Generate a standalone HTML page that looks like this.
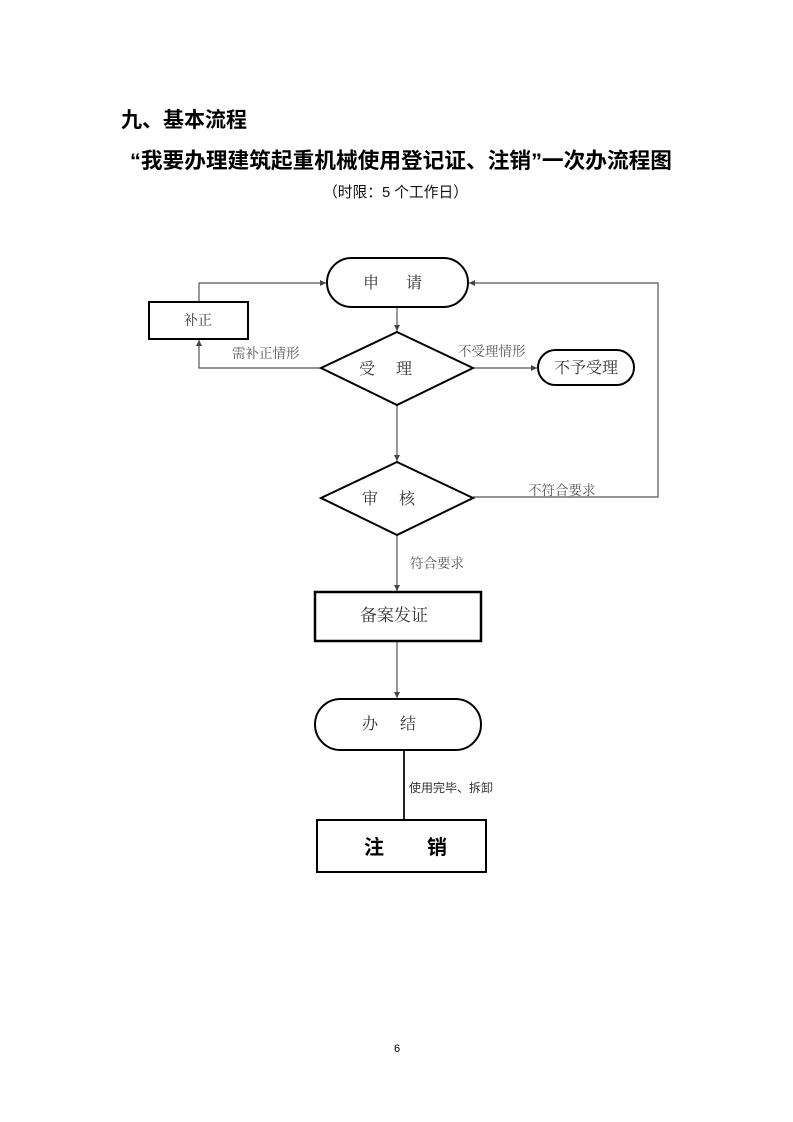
<!DOCTYPE html>
<html>
<head>
<meta charset="utf-8">
<style>
  html,body{margin:0;padding:0;background:#fff;}
  svg{display:block;}
  .h{font-family:"Liberation Sans","Noto Sans CJK SC",sans-serif;font-weight:bold;fill:#000;}
  .s{font-family:"Liberation Serif","Noto Serif CJK SC",serif;fill:#333;}
  .l{font-family:"Liberation Serif","Noto Serif CJK SC",serif;fill:#555;}
</style>
</head>
<body>
<svg width="793" height="1122" viewBox="0 0 793 1122" xmlns="http://www.w3.org/2000/svg">
  <defs>
    <marker id="a" viewBox="0 0 10 10" refX="10" refY="5" markerWidth="6" markerHeight="6" orient="auto" markerUnits="userSpaceOnUse">
      <path d="M0,0 L10,5 L0,10 z" fill="#444"/>
    </marker>
  </defs>

  <!-- Titles -->
  <text class="h" x="121" y="127" font-size="21" textLength="126" lengthAdjust="spacingAndGlyphs">九、基本流程</text>
  <text class="h" x="130" y="168" font-size="21.5" textLength="542" lengthAdjust="spacingAndGlyphs">“我要办理建筑起重机械使用登记证、注销”一次办流程图</text>
  <text class="s" x="323" y="197" font-size="15" fill="#111" textLength="145" lengthAdjust="spacingAndGlyphs" style="fill:#111;font-family:'Liberation Sans','Noto Sans CJK SC',sans-serif">（时限：5 个工作日）</text>

  <!-- Connectors -->
  <g stroke="#555" stroke-width="1.2" fill="none">
    <!-- 补正 -> 申请 -->
    <polyline points="199,302 199,283 326,283" marker-end="url(#a)"/>
    <!-- 审核 不符合 -> 申请 -->
    <polyline points="473,497 658,497 658,283 469,283" marker-end="url(#a)"/>
    <!-- 申请 -> 受理 -->
    <line x1="397" y1="307" x2="397" y2="331" marker-end="url(#a)"/>
    <!-- 受理 -> 补正 -->
    <polyline points="321,368 199,368 199,340" marker-end="url(#a)"/>
    <!-- 受理 -> 不予受理 -->
    <line x1="473" y1="368" x2="537" y2="368" marker-end="url(#a)"/>
    <!-- 受理 -> 审核 -->
    <line x1="397" y1="405" x2="397" y2="461" marker-end="url(#a)"/>
    <!-- 审核 -> 备案 -->
    <line x1="397" y1="535" x2="397" y2="591" marker-end="url(#a)"/>
    <!-- 备案 -> 办结 -->
    <line x1="397" y1="641" x2="397" y2="698" marker-end="url(#a)"/>
  </g>
  <!-- 办结 -> 注销 -->
  <line x1="404" y1="750" x2="404" y2="820" stroke="#222" stroke-width="2"/>

  <!-- Shapes -->
  <g stroke="#000" stroke-width="2" fill="#fff">
    <rect x="327" y="258" width="141" height="49" rx="24.5" ry="24.5"/>
    <rect x="149" y="302" width="99" height="37"/>
    <polygon points="397,332 473,368 397,405 321,368"/>
    <rect x="538" y="350" width="96" height="35" rx="17.5" ry="17.5"/>
    <polygon points="397,462 473,498 397,535 321,498"/>
    <rect x="315" y="592" width="166" height="49" stroke-width="2.5"/>
    <rect x="315" y="699" width="166" height="51" rx="25.5" ry="25.5"/>
    <rect x="317" y="820" width="169" height="52"/>
  </g>

  <!-- Node text -->
  <text class="s" x="363" y="288" font-size="16">申</text>
  <text class="s" x="406" y="288" font-size="16">请</text>
  <text class="s" x="184" y="325" font-size="14">补正</text>
  <text class="s" x="359" y="374" font-size="16">受</text>
  <text class="s" x="396" y="374" font-size="16">理</text>
  <text class="s" x="554" y="373" font-size="16">不予受理</text>
  <text class="s" x="362" y="504" font-size="16">审</text>
  <text class="s" x="399" y="504" font-size="16">核</text>
  <text class="s" x="360" y="621" font-size="17">备案发证</text>
  <text class="s" x="362" y="729" font-size="16">办</text>
  <text class="s" x="400" y="729" font-size="16">结</text>
  <text class="h" x="364" y="854" font-size="20">注</text>
  <text class="h" x="427" y="854" font-size="20">销</text>

  <!-- Connector labels -->
  <text class="l" x="232" y="358" font-size="13.5">需补正情形</text>
  <text class="l" x="458" y="356" font-size="13.5">不受理情形</text>
  <text class="l" x="528" y="495" font-size="13.5">不符合要求</text>
  <text class="l" x="410" y="568" font-size="13.5">符合要求</text>
  <text class="l" x="409" y="792" font-size="12" style="fill:#333;font-family:'Liberation Sans','Noto Sans CJK SC',sans-serif">使用完毕、拆卸</text>

  <!-- Page number -->
  <text x="397" y="1052" font-size="11" text-anchor="middle" font-family="Liberation Sans, sans-serif" fill="#000">6</text>
</svg>
</body>
</html>
